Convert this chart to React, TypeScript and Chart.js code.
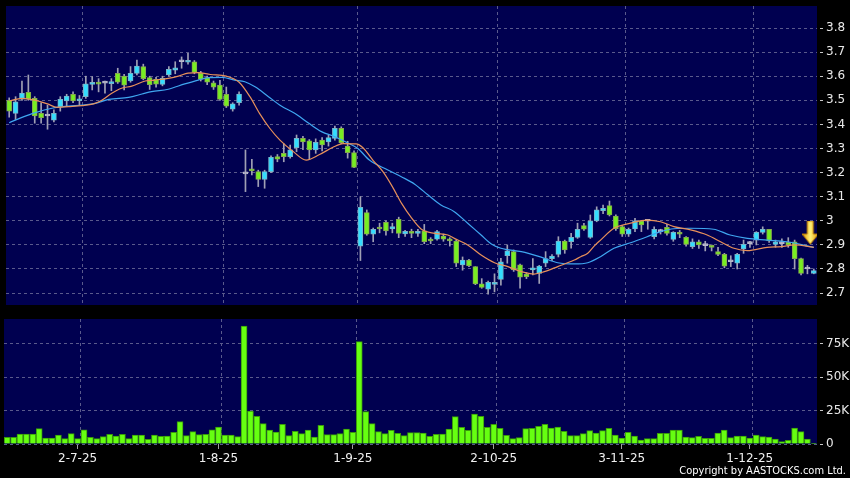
import React, { useEffect, useRef } from 'react';
import { Chart, registerables } from 'chart.js';

Chart.register(...registerables);

// ---------- DATA ----------
const opens = [
  3.500, 3.446, 3.505, 3.533, 3.508, 3.446, 3.435, 3.418, 3.473, 3.497,
  3.525, 3.498, 3.515, 3.566, 3.575, 3.571, 3.569, 3.612, 3.600, 3.580,
  3.612, 3.640, 3.594, 3.587, 3.566, 3.605, 3.625, 3.660, 3.658, 3.660,
  3.612, 3.594, 3.573, 3.563, 3.525, 3.463, 3.490, 3.195, 3.216, 3.204,
  3.172, 3.204, 3.266, 3.280, 3.266, 3.303, 3.342, 3.332, 3.294, 3.335,
  3.327, 3.342, 3.384, 3.310, 3.283, 2.895, 3.034, 2.945, 2.973, 2.994,
  2.966, 3.006, 2.946, 2.955, 2.948, 2.958, 2.924, 2.924, 2.937, 2.924,
  2.916, 2.817, 2.837, 2.810, 2.738, 2.716, 2.736, 2.757, 2.855, 2.872,
  2.817, 2.779, 2.796, 2.782, 2.824, 2.843, 2.861, 2.916, 2.913, 2.931,
  2.980, 2.931, 3.000, 3.042, 3.063, 3.020, 2.976, 2.944, 2.966, 3.000,
  2.998, 2.934, 2.955, 2.973, 2.923, 2.952, 2.931, 2.893, 2.913, 2.897,
  2.897, 2.872, 2.861, 2.830, 2.824, 2.883, 2.905, 2.920, 2.952, 2.965,
  2.902, 2.905, 2.911, 2.913, 2.843, 2.800, 2.782,
];
const highs = [
  3.510, 3.515, 3.580, 3.605, 3.515, 3.490, 3.480, 3.460, 3.515, 3.525,
  3.535, 3.520, 3.600, 3.598, 3.590, 3.580, 3.590, 3.633, 3.608, 3.640,
  3.667, 3.650, 3.600, 3.595, 3.600, 3.640, 3.660, 3.680, 3.695, 3.665,
  3.620, 3.600, 3.580, 3.583, 3.555, 3.490, 3.535, 3.294, 3.255, 3.210,
  3.210, 3.270, 3.275, 3.320, 3.314, 3.356, 3.350, 3.337, 3.340, 3.345,
  3.355, 3.393, 3.390, 3.330, 3.290, 3.100, 3.045, 2.970, 2.990, 3.000,
  2.990, 3.015, 2.960, 2.965, 2.965, 2.985, 2.930, 2.960, 2.945, 2.930,
  2.920, 2.850, 2.840, 2.810, 2.760, 2.750, 2.780, 2.844, 2.900, 2.879,
  2.820, 2.785, 2.843, 2.815, 2.872, 2.860, 2.934, 2.920, 2.948, 2.990,
  2.990, 3.024, 3.058, 3.065, 3.082, 3.025, 2.980, 2.970, 3.010, 3.000,
  3.000, 2.975, 2.965, 2.985, 2.955, 2.960, 2.935, 2.925, 2.920, 2.915,
  2.900, 2.890, 2.865, 2.855, 2.865, 2.920, 2.915, 2.955, 2.975, 2.965,
  2.920, 2.925, 2.930, 2.920, 2.845, 2.815, 2.800,
];
const lows = [
  3.430, 3.420, 3.500, 3.500, 3.405, 3.405, 3.380, 3.410, 3.455, 3.475,
  3.490, 3.480, 3.508, 3.543, 3.535, 3.530, 3.540, 3.570, 3.543, 3.575,
  3.605, 3.585, 3.545, 3.555, 3.560, 3.600, 3.610, 3.633, 3.650, 3.610,
  3.580, 3.565, 3.545, 3.500, 3.470, 3.455, 3.480, 3.121, 3.190, 3.142,
  3.135, 3.200, 3.245, 3.245, 3.260, 3.287, 3.295, 3.255, 3.280, 3.290,
  3.310, 3.335, 3.320, 3.260, 3.220, 2.835, 2.940, 2.913, 2.950, 2.940,
  2.950, 2.930, 2.935, 2.930, 2.935, 2.905, 2.905, 2.920, 2.915, 2.895,
  2.810, 2.795, 2.810, 2.735, 2.720, 2.696, 2.705, 2.733, 2.824, 2.790,
  2.720, 2.760, 2.775, 2.740, 2.810, 2.835, 2.850, 2.865, 2.886, 2.927,
  2.960, 2.927, 2.996, 3.030, 3.020, 2.960, 2.935, 2.935, 2.955, 2.955,
  2.965, 2.925, 2.945, 2.940, 2.915, 2.930, 2.895, 2.885, 2.885, 2.875,
  2.875, 2.855, 2.805, 2.810, 2.800, 2.865, 2.890, 2.900, 2.945, 2.910,
  2.890, 2.890, 2.890, 2.800, 2.775, 2.780, 2.780,
];
const closes = [
  3.455, 3.494, 3.530, 3.505, 3.435, 3.428, 3.435, 3.446, 3.504, 3.518,
  3.497, 3.505, 3.568, 3.575, 3.567, 3.571, 3.577, 3.575, 3.563, 3.612,
  3.642, 3.590, 3.565, 3.567, 3.591, 3.629, 3.635, 3.660, 3.663, 3.616,
  3.587, 3.575, 3.554, 3.504, 3.476, 3.485, 3.526, 3.195, 3.207, 3.172,
  3.204, 3.263, 3.256, 3.266, 3.294, 3.342, 3.327, 3.294, 3.326, 3.315,
  3.345, 3.384, 3.324, 3.283, 3.222, 3.056, 2.945, 2.965, 2.966, 2.958,
  2.976, 2.948, 2.956, 2.948, 2.956, 2.913, 2.916, 2.955, 2.924, 2.917,
  2.824, 2.837, 2.814, 2.738, 2.724, 2.745, 2.743, 2.830, 2.875, 2.796,
  2.766, 2.768, 2.805, 2.812, 2.843, 2.854, 2.916, 2.879, 2.931, 2.965,
  2.965, 3.000, 3.045, 3.052, 3.024, 2.967, 2.944, 2.965, 3.000, 2.983,
  2.998, 2.965, 2.955, 2.948, 2.952, 2.944, 2.902, 2.913, 2.900, 2.897,
  2.890, 2.861, 2.812, 2.830, 2.861, 2.902, 2.905, 2.952, 2.965, 2.916,
  2.913, 2.905, 2.900, 2.843, 2.782, 2.800, 2.793,
];
// volume, thousands of shares
const volumes = [
  5, 5, 7.5, 7.5, 7.5, 11.5, 4.5, 4.5, 6.75, 4,
  7.75, 4, 10.7, 5, 4, 5.5, 7.25, 6, 7.25, 4,
  6.75, 6.75, 3.5, 6.75, 5.75, 6, 8.75, 16.75, 6.25, 9.25,
  7, 7.25, 10.7, 12.75, 6.75, 6.75, 5.5, 88.5, 24.75, 20.75,
  15.25, 10.5, 9, 14.75, 6.25, 9.5, 7.75, 10.5, 5.25, 14,
  7, 7, 7.75, 11.25, 8.75, 76.75, 24.25, 15.25, 9.25, 7.75,
  10.25, 8, 6.25, 8.5, 8.5, 8.25, 5.75, 7.25, 7.5, 11.25,
  20.5, 12.5, 10.25, 22.5, 20.75, 12.5, 14.75, 11.75, 6.5, 4,
  4.75, 11.5, 11.75, 13.25, 14.75, 12, 12.75, 9.5, 6.25, 6.25,
  7.75, 10, 8.25, 10, 11.75, 6.75, 4.5, 8.75, 6, 3,
  4, 4, 8, 8, 10.5, 10.5, 5.25, 4.75, 5.75, 4.25,
  4.25, 8.25, 10.5, 4.75, 6, 6, 4.5, 6.75, 5.5, 5.25,
  3.75, 1.75, 2.75, 12, 9.25, 3.75, 0.5,
];

// moving averages (position in sessions, price)
const maShortX = [0, 2, 4, 6, 7.5, 9.3, 11.4, 13.2, 14.5, 16, 17.6, 19.2, 21.3, 22.8, 24.9, 26.5, 28, 29.6, 31.5, 34, 36, 37.7, 39.2, 40.8, 42.4, 44.5, 46.5, 48.6, 50.7, 52.3, 54.3, 55.4, 57, 58.5, 60, 61.5, 63, 64.5, 66.6, 68.7, 69.7, 71.8, 73.9, 76, 78.1, 80.2, 82.2, 83.8, 85.9, 88.5, 89.5, 90.6, 91.6, 92.6, 94.7, 97.3, 99.9, 102, 104.1, 106.7, 109.3, 111.4, 113.5, 115.6, 118.7, 120.9, 123, 126];
const maShortY = [3.497, 3.508, 3.501, 3.485, 3.471, 3.474, 3.478, 3.485, 3.50, 3.528, 3.55, 3.559, 3.58, 3.584, 3.591, 3.60, 3.613, 3.615, 3.607, 3.60, 3.575, 3.515, 3.446, 3.384, 3.335, 3.287, 3.252, 3.275, 3.305, 3.32, 3.319, 3.303, 3.25, 3.205, 3.142, 3.07, 3.012, 2.966, 2.948, 2.941, 2.927, 2.90, 2.858, 2.826, 2.81, 2.789, 2.779, 2.789, 2.81, 2.837, 2.851, 2.865, 2.895, 2.92, 2.969, 2.99, 3.003, 2.996, 2.976, 2.962, 2.941, 2.913, 2.886, 2.876, 2.89, 2.893, 2.90, 2.89];
const maLongX = [0, 2, 4.1, 6.7, 9.3, 11.4, 13.5, 15.6, 18.7, 20.8, 22.3, 24.9, 27.5, 29.6, 31.2, 33.3, 35.3, 36.9, 38.5, 40.6, 42.6, 44.7, 46.8, 48.9, 51, 53.1, 54.6, 56.4, 59.3, 61.4, 63.5, 65.6, 67.6, 69.7, 71.8, 73.9, 75.5, 77, 80.2, 83.3, 85.9, 88.5, 90.6, 92.6, 94.7, 97.3, 99.9, 102, 104.1, 106.7, 110.3, 112.9, 115.6, 118.7, 121.8, 126];
const maLongY = [3.407, 3.429, 3.449, 3.467, 3.476, 3.48, 3.487, 3.504, 3.512, 3.526, 3.536, 3.546, 3.568, 3.584, 3.594, 3.595, 3.584, 3.577, 3.556, 3.515, 3.476, 3.446, 3.407, 3.37, 3.349, 3.322, 3.30, 3.252, 3.211, 3.183, 3.152, 3.107, 3.066, 3.038, 2.99, 2.941, 2.904, 2.886, 2.872, 2.849, 2.826, 2.821, 2.826, 2.851, 2.886, 2.909, 2.934, 2.955, 2.967, 2.969, 2.965, 2.941, 2.927, 2.92, 2.913, 2.89];

// x-axis date ticks (session index) and their labels
const tickIndex = [11, 33, 54, 76, 96, 116];
const tickLabels = ['2-7-25', '1-8-25', '1-9-25', '2-10-25', '3-11-25', '1-12-25'];
const priceTicks = [2.7, 2.8, 2.9, 3.0, 3.1, 3.2, 3.3, 3.4, 3.5, 3.6, 3.7, 3.8];
const volumeTicks = [0, 25, 50, 75];

// latest-session marker (arrow)
const markerX = 125.45;
const markerY = 2.949;

// ---------- STYLE ----------
const NAVY = '#000050';
const GRID = '#5a5a8c';
const FONT = 'DejaVu Sans';
const X_MIN = -0.5;
const X_MAX = closes.length - 0.5;
const P_MIN = 2.6506;
const P_MAX = 3.8913;
const V_MAX = 93.75;

const navyBg = {
  id: 'navyBg',
  beforeDraw(chart: any) {
    const { ctx, chartArea } = chart;
    if (!chartArea) return;
    ctx.save();
    ctx.fillStyle = NAVY;
    ctx.fillRect(chartArea.left, chartArea.top, chartArea.right - chartArea.left, chartArea.bottom - chartArea.top);
    ctx.restore();
  },
};

function makeArrow(): HTMLCanvasElement {
  const c = document.createElement('canvas');
  c.width = 16;
  c.height = 24;
  const g = c.getContext('2d') as CanvasRenderingContext2D;
  const grad = g.createLinearGradient(0, 0, 16, 0);
  grad.addColorStop(0, '#e09a00');
  grad.addColorStop(0.5, '#fff27a');
  grad.addColorStop(1, '#e09a00');
  g.fillStyle = grad;
  g.beginPath();
  g.moveTo(5, 0);
  g.lineTo(11, 0);
  g.lineTo(11, 13);
  g.lineTo(16, 13);
  g.lineTo(8, 23);
  g.lineTo(0, 13);
  g.lineTo(5, 13);
  g.closePath();
  g.fill();
  g.strokeStyle = '#c88400';
  g.lineWidth = 1;
  g.stroke();
  return c;
}

const gridBounds = tickIndex.map((i) => i + 0.5);

export default function App() {
  const topRef = useRef<HTMLCanvasElement | null>(null);
  const botRef = useRef<HTMLCanvasElement | null>(null);

  useEffect(() => {
    const idx = closes.map((_, i) => i);
    const up = (i: number) => closes[i] > opens[i];
    const flat = (i: number) => closes[i] === opens[i];
    const bodyBg = idx.map((i) => (flat(i) ? '#b8b8cc' : up(i) ? '#33ddff' : '#77ee22'));
    const bodyBorder = idx.map((i) => (flat(i) ? '#b8b8cc' : up(i) ? '#78b4c8' : '#86a84e'));

    const yAxisCommon = {
      position: 'right',
      afterFit: (s: any) => {
        s.width = 33;
        s.paddingTop = 0;
        s.paddingBottom = 0;
      },
      grid: {
        color: GRID,
        tickLength: 7,
        tickColor: '#c8c8c8',
        tickBorderDash: [3, 3],
        tickBorderDashOffset: 3,
      },
      border: { display: false, dash: [3, 3] },
    };

    const top = new Chart(topRef.current as HTMLCanvasElement, {
      type: 'bar',
      data: {
        datasets: [
          {
            type: 'line',
            data: [{ x: markerX, y: markerY }],
            showLine: false,
            pointStyle: makeArrow() as any,
            pointRadius: 5,
          } as any,
          {
            type: 'line',
            data: maShortX.map((x, i) => ({ x, y: maShortY[i] })),
            borderColor: '#e8905a',
            borderWidth: 1.2,
            pointRadius: 0,
            cubicInterpolationMode: 'monotone',
          },
          {
            type: 'line',
            data: maLongX.map((x, i) => ({ x, y: maLongY[i] })),
            borderColor: '#3fa6f0',
            borderWidth: 1.2,
            pointRadius: 0,
            cubicInterpolationMode: 'monotone',
          },
          {
            type: 'bar',
            data: idx.map((i) => ({ x: i, y: [opens[i], closes[i]] })),
            backgroundColor: bodyBg,
            borderColor: bodyBorder,
            borderWidth: 1,
            borderSkipped: false,
            barThickness: 5,
            minBarLength: 2,
            grouped: false,
          },
          {
            type: 'bar',
            data: idx.map((i) => ({ x: i, y: [lows[i], highs[i]] })),
            backgroundColor: '#a0a0b4',
            barThickness: 1,
            grouped: false,
          },
        ] as any,
      },
      options: {
        responsive: false,
        animation: false,
        events: [],
        layout: { padding: { left: 4, top: 6, right: 0, bottom: 7 } },
        plugins: { legend: { display: false }, tooltip: { enabled: false } },
        scales: {
          x: {
            type: 'linear',
            min: X_MIN,
            max: X_MAX,
            offset: false,
            afterBuildTicks: (a: any) => { a.ticks = gridBounds.map((v) => ({ value: v })); },
            afterFit: (s: any) => { s.height = 0; s.paddingLeft = 0; s.paddingRight = 0; },
            ticks: { display: false },
            grid: { color: GRID, drawTicks: false, offset: false },
            border: { display: false, dash: [3, 3] },
          },
          y: {
            ...yAxisCommon,
            min: P_MIN,
            max: P_MAX,
            afterBuildTicks: (a: any) => { a.ticks = priceTicks.map((v) => ({ value: v })); },
            ticks: {
              color: '#e8e8e8',
              padding: 2,
              font: { family: FONT, size: 12 },
              callback: (v: any) => String(Math.round(Number(v) * 10) / 10),
            },
          },
        } as any,
      },
      plugins: [navyBg],
    });

    const bot = new Chart(botRef.current as HTMLCanvasElement, {
      type: 'bar',
      data: {
        datasets: [
          {
            data: idx.map((i) => ({ x: i, y: volumes[i] })),
            backgroundColor: '#66ff11',
            borderColor: '#3a9a0a',
            borderWidth: 1,
            barThickness: 6,
          },
        ] as any,
      },
      options: {
        responsive: false,
        animation: false,
        events: [],
        layout: { padding: { left: 4, top: 7, right: 0, bottom: 10 } },
        plugins: { legend: { display: false }, tooltip: { enabled: false } },
        scales: {
          x: {
            type: 'linear',
            position: 'bottom',
            min: X_MIN,
            max: X_MAX,
            offset: false,
            afterBuildTicks: (a: any) => { a.ticks = tickIndex.map((v) => ({ value: v })); },
            afterFit: (s: any) => { s.height = 24; s.paddingLeft = 0; s.paddingRight = 0; },
            ticks: {
              color: '#f0f0f0',
              padding: 3,
              autoSkip: false,
              maxRotation: 0,
              font: { family: FONT, size: 12 },
              callback: (_v: any, i: number) => tickLabels[i],
            },
            grid: { drawOnChartArea: false, drawTicks: true, tickLength: 5, tickColor: '#a0a0a0', offset: false },
            border: { display: false },
          },
          x2: {
            type: 'linear',
            position: 'top',
            min: X_MIN,
            max: X_MAX,
            offset: false,
            afterBuildTicks: (a: any) => { a.ticks = gridBounds.map((v) => ({ value: v })); },
            afterFit: (s: any) => { s.height = 0; s.paddingLeft = 0; s.paddingRight = 0; },
            ticks: { display: false },
            grid: { color: GRID, drawTicks: false, offset: false },
            border: { display: false, dash: [3, 3] },
          },
          y: {
            ...yAxisCommon,
            min: 0,
            max: V_MAX,
            afterBuildTicks: (a: any) => { a.ticks = volumeTicks.map((v) => ({ value: v })); },
            ticks: {
              color: '#e8e8e8',
              padding: 2,
              font: { family: FONT, size: 12 },
              callback: (v: any) => (Number(v) === 0 ? '0' : `${v}K`),
            },
          },
        } as any,
      },
      plugins: [navyBg],
    });

    return () => {
      top.destroy();
      bot.destroy();
    };
  }, []);

  return (
    <div style={{ position: 'absolute', left: 0, top: 0, width: 850, height: 478, background: '#000', overflow: 'hidden' }}>
      <canvas ref={topRef} width={850} height={312} style={{ position: 'absolute', left: 0, top: 0, display: 'block' }} />
      <canvas ref={botRef} width={850} height={166} style={{ position: 'absolute', left: 0, top: 312, display: 'block' }} />
      <div
        style={{
          position: 'absolute',
          right: 4,
          top: 464,
          color: '#ffffff',
          fontFamily: '"DejaVu Sans Condensed", "Liberation Sans Narrow", "DejaVu Sans"',
          fontStretch: 'condensed',
          fontSize: 11,
          lineHeight: '13px',
          whiteSpace: 'nowrap',
        }}
      >
        Copyright by AASTOCKS.com Ltd.
      </div>
    </div>
  );
}
